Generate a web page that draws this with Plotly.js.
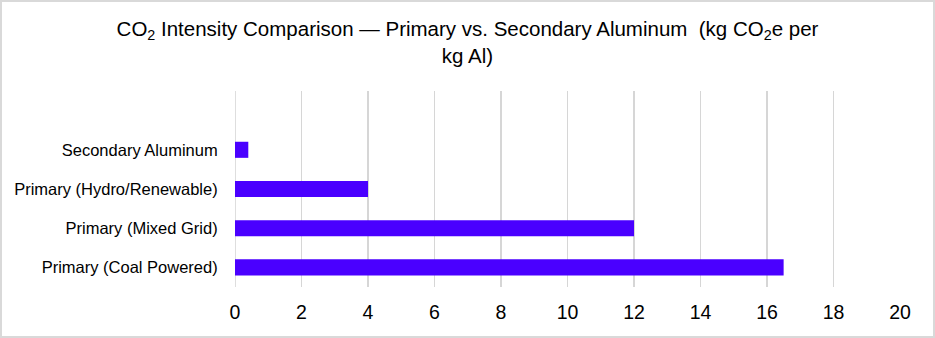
<!DOCTYPE html>
<html>
<head>
<meta charset="utf-8">
<script src="https://cdn.plot.ly/plotly-3.0.1.min.js"></script>
<style>
  html, body { margin: 0; padding: 0; background: #fff; }
  #wrap { position: relative; width: 935px; height: 338px; }
  #chart { position: absolute; left: 0; top: 0; width: 935px; height: 338px; }
  #frame { position: absolute; left: 0; top: 0; width: 935px; height: 338px; box-sizing: border-box; border: 2px solid #d9d9d9; pointer-events: none; }
</style>
</head>
<body>
<div id="wrap"><div id="chart"></div><div id="frame"></div></div>
<script>
const categories = ['Primary (Coal Powered)', 'Primary (Mixed Grid)', 'Primary (Hydro/Renewable)', 'Secondary Aluminum'];
const values = [16.5, 12, 4, 0.4];
const xTicks = [0, 2, 4, 6, 8, 10, 12, 14, 16, 18, 20];
const titleLine1 = 'CO<sub>2</sub> Intensity Comparison \u2014 Primary vs. Secondary Aluminum \u00a0(kg CO<sub>2</sub>e per';
const titleLine2 = 'kg Al)';

const font = 'Arial, "Liberation Sans", sans-serif';

Plotly.newPlot('chart', [{
  type: 'bar',
  orientation: 'h',
  x: values,
  y: categories,
  marker: { color: '#4a00ff' },
  hoverinfo: 'none'
}], {
  width: 935,
  height: 338,
  margin: { l: 235, r: 35, t: 91, b: 51 },
  paper_bgcolor: '#ffffff',
  plot_bgcolor: '#ffffff',
  bargap: 0.59,
  showlegend: false,
  font: { family: font, color: '#000000' },
  title: {
    text: titleLine1 + '<br>' + titleLine2,
    font: { family: font, size: 20.5, color: '#000000' },
    x: 0.5, xref: 'container', xanchor: 'center',
    y: 1 - 36 / 338, yref: 'container', yanchor: 'top'
  },
  xaxis: {
    range: [0, 20],
    tickvals: xTicks,
    ticktext: xTicks.map(String),
    showgrid: true,
    gridcolor: '#d6d6d6',
    gridwidth: 1.6,
    zeroline: false,
    showline: false,
    ticks: 'outside',
    ticklen: 8,
    tickcolor: 'rgba(0,0,0,0)',
    tickfont: { family: font, size: 19.5, color: '#000000' },
    fixedrange: true
  },
  yaxis: {
    type: 'category',
    categoryorder: 'array',
    categoryarray: categories,
    range: [-0.5, 4.5],
    showgrid: false,
    zeroline: false,
    showline: false,
    ticks: 'outside',
    ticklen: 13,
    tickcolor: 'rgba(0,0,0,0)',
    tickfont: { family: font, size: 16.5, color: '#000000' },
    fixedrange: true
  },
  shapes: [{
    type: 'line', xref: 'x', yref: 'paper', x0: 0, x1: 0, y0: 0, y1: 1,
    line: { color: '#d6d6d6', width: 1.6 }, layer: 'below'
  }]
}, { displayModeBar: false, staticPlot: true });
</script>
</body>
</html>
